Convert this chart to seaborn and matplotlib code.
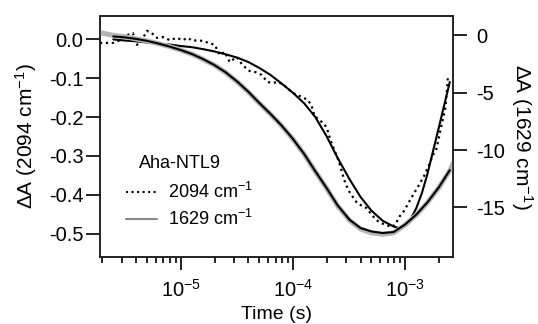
import numpy as np
import pandas as pd
import matplotlib
matplotlib.use("Agg")
import matplotlib.pyplot as plt
from matplotlib.lines import Line2D
from matplotlib.ticker import FixedLocator, FormatStrFormatter, LogLocator, NullFormatter
import seaborn as sns

sns.set_style("ticks")
plt.rcParams['font.family'] = ['Liberation Sans', 'DejaVu Sans']
plt.rcParams['mathtext.fontset'] = 'custom'
plt.rcParams['mathtext.rm'] = 'Liberation Sans'
plt.rcParams['mathtext.it'] = 'Liberation Sans:italic'
plt.rcParams['mathtext.bf'] = 'Liberation Sans:bold'
plt.rcParams['axes.unicode_minus'] = False
for k in ['text.color', 'axes.labelcolor', 'xtick.color', 'ytick.color', 'axes.edgecolor']:
    plt.rcParams[k] = 'black'

# ---------------- data ----------------
# 2094 cm-1 raw data (left axis)
t_2094 = [1.905e-6, 2.20e-6, 2.49e-6, 2.87e-6, 3.31e-6, 3.74e-6, 4.06e-6, 4.50e-6, 4.99e-6,
          5.52e-6, 6.12e-6, 6.92e-6, 7.98e-6, 9.21e-6, 1.04e-5, 1.15e-5, 1.28e-5, 1.39e-5,
          1.57e-5, 1.77e-5, 2.01e-5, 2.22e-5, 2.46e-5, 2.73e-5, 3.15e-5, 3.56e-5, 4.10e-5,
          4.64e-5, 5.25e-5, 5.93e-5, 6.57e-5, 7.28e-5, 8.07e-5, 8.94e-5, 9.90e-5, 1.096e-4,
          1.215e-4, 1.346e-4, 1.459e-4, 1.552e-4, 1.72e-4, 1.905e-4, 2.03e-4, 2.155e-4,
          2.34e-4, 2.54e-4, 2.70e-4, 2.87e-4, 3.11e-4, 3.38e-4, 3.74e-4, 4.15e-4, 4.50e-4,
          4.99e-4, 5.52e-4, 6.12e-4, 6.78e-4, 7.66e-4, 8.32e-4, 8.85e-4, 9.60e-4, 1.021e-3,
          1.107e-3, 1.202e-3, 1.331e-3, 1.475e-3, 1.633e-3, 1.773e-3, 1.887e-3, 2.005e-3,
          2.13e-3, 2.27e-3, 2.36e-3, 2.41e-3]
dA_2094 = [-0.010, -0.010, -0.010, -0.003, 0.010, 0.015, -0.015, -0.003, 0.021,
           0.015, 0.003, 0.005, -0.003, 0.003, -0.003, 0.003, -0.005, -0.003,
           -0.005, -0.010, -0.015, -0.041, -0.033, -0.059, -0.046, -0.067, -0.082,
           -0.085, -0.092, -0.110, -0.113, -0.110, -0.115, -0.126, -0.138, -0.144,
           -0.149, -0.156, -0.169, -0.197, -0.208, -0.218, -0.233, -0.259,
           -0.285, -0.310, -0.336, -0.362, -0.387, -0.403, -0.421, -0.428, -0.433,
           -0.449, -0.464, -0.472, -0.477, -0.482, -0.472, -0.456, -0.444, -0.431,
           -0.413, -0.395, -0.374, -0.351, -0.323, -0.297, -0.285, -0.251,
           -0.215, -0.182, -0.131, -0.092]

# fit of the 2094 cm-1 trace (left axis)
t_fit_2094 = [2.5e-6, 3.2e-6, 4.0e-6, 5.0e-6, 6.3e-6, 7.9e-6, 1.0e-5, 1.26e-5, 1.58e-5, 2.0e-5,
              2.5e-5, 3.2e-5, 4.0e-5, 5.0e-5, 6.3e-5, 7.9e-5, 1.0e-4, 1.26e-4, 1.58e-4, 2.0e-4,
              2.5e-4, 3.2e-4, 4.0e-4, 5.0e-4, 6.3e-4, 7.9e-4, 8.9e-4, 1.0e-3, 1.12e-3, 1.26e-3,
              1.41e-3, 1.58e-3, 2.0e-3, 2.5e-3]
fit_2094 = [-0.001, -0.004, -0.006, -0.009, -0.012, -0.014, -0.018, -0.021, -0.026, -0.032,
            -0.039, -0.048, -0.059, -0.074, -0.092, -0.114, -0.138, -0.165, -0.200, -0.250,
            -0.305, -0.360, -0.405, -0.440, -0.466, -0.481, -0.485, -0.478, -0.462, -0.433,
            -0.395, -0.346, -0.226, -0.110]

# fit of the 1629 cm-1 trace (right axis)
t_fit_1629 = [2.5e-6, 3.2e-6, 4.0e-6, 5.0e-6, 6.3e-6, 7.9e-6, 1.0e-5, 1.26e-5, 1.58e-5, 2.0e-5,
              2.5e-5, 3.2e-5, 4.0e-5, 5.0e-5, 6.3e-5, 7.9e-5, 1.0e-4, 1.26e-4, 1.58e-4, 2.0e-4,
              2.5e-4, 3.2e-4, 4.0e-4, 5.0e-4, 6.3e-4, 7.9e-4, 1.0e-3, 1.26e-3, 1.58e-3, 2.0e-3,
              2.5e-3]
fit_1629 = [-0.08, -0.17, -0.30, -0.47, -0.70, -0.96, -1.27, -1.62, -2.06, -2.59,
            -3.20, -4.04, -4.91, -5.88, -6.84, -7.85, -9.03, -10.35, -11.84, -13.33,
            -14.82, -16.09, -16.80, -17.10, -17.24, -17.15, -16.49, -15.62, -14.56, -13.24,
            -11.75]

# 1629 cm-1 raw data (right axis)
t_1629 = [1.9e-6, 2.2e-6, 2.5e-6, 3.2e-6, 4.0e-6, 5.0e-6, 6.3e-6, 7.9e-6, 1.0e-5, 1.26e-5,
          1.58e-5, 2.0e-5, 2.5e-5, 3.2e-5, 4.0e-5, 5.0e-5, 6.3e-5, 7.9e-5, 1.0e-4, 1.26e-4,
          1.58e-4, 2.0e-4, 2.5e-4, 3.2e-4, 4.0e-4, 5.0e-4, 6.3e-4, 7.9e-4, 1.0e-3, 1.26e-3,
          1.58e-3, 2.0e-3, 2.5e-3, 2.7e-3]
dA_1629 = [0.25, 0.12, 0.02, -0.12, -0.30, -0.48, -0.71, -0.96, -1.28, -1.63,
           -2.08, -2.60, -3.22, -4.06, -4.93, -5.90, -6.86, -7.86, -9.05, -10.37,
           -11.86, -13.36, -14.86, -16.14, -16.88, -17.22, -17.34, -17.22, -16.53, -15.65,
           -14.58, -13.26, -11.78, -11.10]

leg_title = "Aha-NTL9"
leg_labels = ["2094 cm$^{-1}$", "1629 cm$^{-1}$"]

# ---------------- figure ----------------
W, H = 538, 324
fig = plt.figure(figsize=(W / 100, H / 100), dpi=100)
L, R, T, B = 100, 453, 16, 257
ax = fig.add_axes([L / W, 1 - B / H, (R - L) / W, (B - T) / H])
ax2 = ax.twinx()

FS_TICK = 14.5
FS_LAB = 15
FS_XLAB = 14
FS_LEG = 13

df_d = pd.DataFrame({"t": t_2094, "dA": dA_2094})
df_f1 = pd.DataFrame({"t": t_fit_2094, "dA": fit_2094})
df_g = pd.DataFrame({"t": t_1629, "dA": dA_1629})
df_f2 = pd.DataFrame({"t": t_fit_1629, "dA": fit_1629})

sns.lineplot(data=df_d, x="t", y="dA", ax=ax, color="black", linestyle=":", linewidth=1.6,
             legend=False, zorder=3)
sns.lineplot(data=df_f1, x="t", y="dA", ax=ax, color="black", linewidth=1.5,
             legend=False, zorder=4)
sns.lineplot(data=df_g, x="t", y="dA", ax=ax2, color="#b4b4b4", linewidth=3.6,
             legend=False, zorder=2)
sns.lineplot(data=df_f2, x="t", y="dA", ax=ax2, color="black", linewidth=1.5,
             legend=False, zorder=4)

ax.set_xscale("log")
ax.set_xlim(1.905e-6, 2.67e-3)
ax.set_ylim(-0.559, 0.059)
ax2.set_ylim(-19.33, 1.70)

ax.xaxis.set_major_locator(FixedLocator([1e-5, 1e-4, 1e-3]))
ax.xaxis.set_minor_locator(LogLocator(base=10, subs=np.arange(2, 10), numticks=20))
ax.xaxis.set_minor_formatter(NullFormatter())
ax.set_xticklabels(["$10^{-5}$", "$10^{-4}$", "$10^{-3}$"])

ax.set_yticks([0.0, -0.1, -0.2, -0.3, -0.4, -0.5])
ax.yaxis.set_major_formatter(FormatStrFormatter("%.1f"))
ax2.set_yticks([0, -5, -10, -15])
ax2.yaxis.set_major_formatter(FormatStrFormatter("%d"))

ax.tick_params(axis="x", which="major", length=9.5, width=1.2, direction="out",
               pad=6.5, labelsize=FS_TICK, top=False)
ax.tick_params(axis="x", which="minor", length=4.5, width=1.2, direction="out", top=False)
ax.tick_params(axis="y", which="major", length=10, width=1.2, direction="out",
               pad=2, labelsize=FS_TICK, right=False)
ax2.tick_params(axis="y", which="major", length=10, width=1.2, direction="out",
                pad=6.5, labelsize=FS_TICK)

for a in (ax, ax2):
    for s in a.spines.values():
        s.set_linewidth(1.2)
        s.set_color("#222222")
        s.set_visible(True)

ax.set_xlabel("Time (s)", fontsize=FS_XLAB, va="bottom")
ax.xaxis.set_label_coords(0.5, (B - 323) / (B - T))
ax.set_ylabel("ΔA (2094 cm$^{-1}$)", fontsize=FS_LAB)
ax.yaxis.set_label_coords(-0.173, 0.5)
ax2.set_ylabel("ΔA (1629 cm$^{-1}$)", fontsize=FS_LAB, rotation=270, va="bottom")
ax2.yaxis.set_label_coords(1.158, 0.5)

handles = [Line2D([], [], color="black", linestyle=":", linewidth=1.5),
           Line2D([], [], color="#888888", linewidth=1.5)]
fig.legend(handles, leg_labels, loc="upper left", bbox_to_anchor=(126 / W, 1 - 182 / H),
           frameon=False, borderpad=0, borderaxespad=0, handlelength=1.7,
           handletextpad=0.6, labelspacing=0.4, fontsize=FS_LEG)
fig.text(139 / W, 1 - 163 / H, leg_title, ha="left", va="center", fontsize=FS_LEG)

fig.savefig("out.png", dpi=100)
